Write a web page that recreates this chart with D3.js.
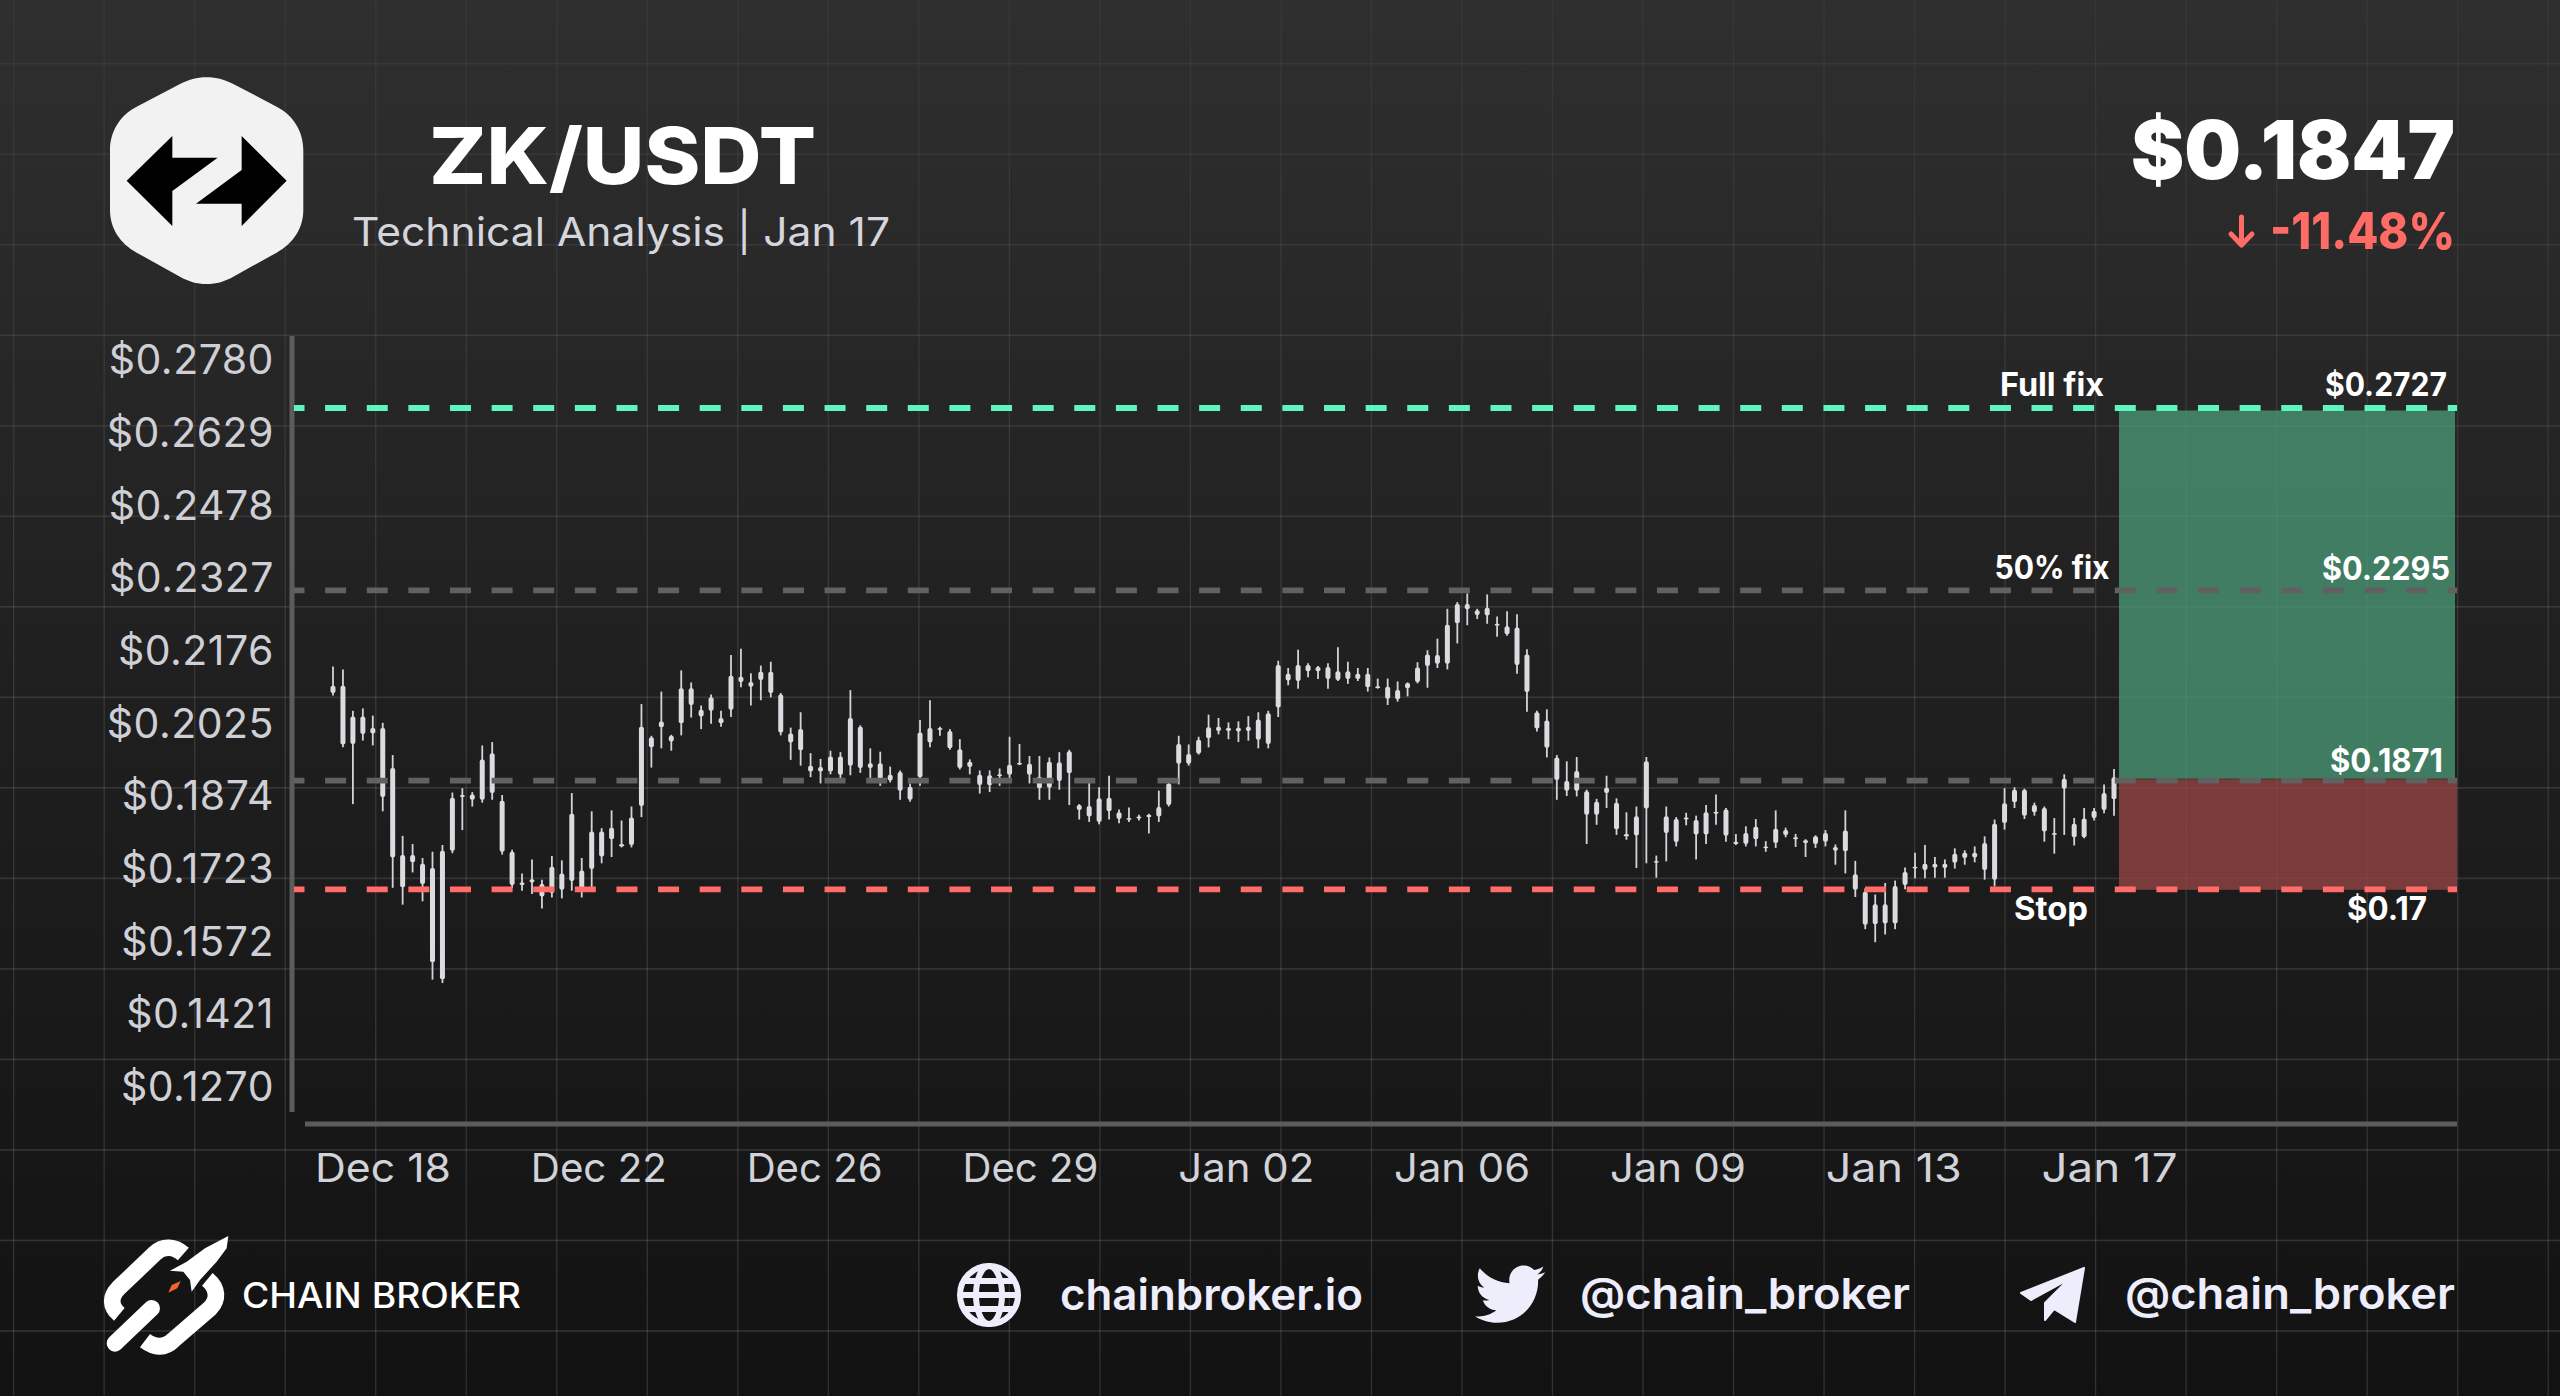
<!DOCTYPE html>
<html>
<head>
<meta charset="utf-8">
<title>ZK/USDT Technical Analysis</title>
<script src="https://cdn.jsdelivr.net/npm/d3@7"></script>
<style>
  html, body { margin: 0; padding: 0; background: #131314; }
  svg { display: block; }
  text { font-family: Inter, "Noto Sans", sans-serif; }
</style>
</head>
<body>
<svg id="chart" width="2560" height="1396" viewBox="0 0 2560 1396"></svg>
<script>
// Price axis labels and session dates along the bottom
const priceTicks = [0.2780, 0.2629, 0.2478, 0.2327, 0.2176, 0.2025, 0.1874, 0.1723, 0.1572, 0.1421, 0.1270];
const dateLabels = ["Dec 18", "Dec 22", "Dec 26", "Dec 29", "Jan 02", "Jan 06", "Jan 09", "Jan 13", "Jan 17"];

// Trade plan levels
const levelValues = [0.2727, 0.2295, 0.1871, 0.17];
const levelNames = ["Full fix", "50% fix", "", "Stop"];

// Candle series, oldest first
const wickHigh = [
0.2141,0.2135,0.2049,0.2054,0.2039,0.2024,0.1957,0.1789,0.1772,0.1743,
0.1756,0.1770,0.1879,0.1888,0.1880,0.1977,0.1984,0.1874,0.1760,0.1711,
0.1740,0.1698,0.1747,0.1738,0.1878,0.1743,0.1840,0.1805,0.1842,0.1821,
0.1850,0.2063,0.1997,0.2089,0.1999,0.2133,0.2108,0.2060,0.2083,0.2049,
0.2165,0.2178,0.2127,0.2143,0.2151,0.2086,0.2014,0.2046,0.1961,0.1949,
0.1966,0.1963,0.2092,0.2019,0.1971,0.1964,0.1933,0.1925,0.1898,0.2030,
0.2071,0.2016,0.2011,0.1990,0.1948,0.1925,0.1925,0.1929,0.1995,0.1980,
0.1955,0.1955,0.1952,0.1963,0.1968,0.1855,0.1899,0.1890,0.1914,0.1844,
0.1848,0.1833,0.1835,0.1883,0.1900,0.1997,0.1979,0.1995,0.2041,0.2034,
0.2025,0.2027,0.2038,0.2046,0.2049,0.2153,0.2138,0.2176,0.2148,0.2142,
0.2148,0.2181,0.2151,0.2138,0.2138,0.2116,0.2116,0.2110,0.2108,0.2150,
0.2175,0.2199,0.2261,0.2275,0.2293,0.2261,0.2291,0.2245,0.2256,0.2250,
0.2177,0.2049,0.2052,0.1957,0.1944,0.1953,0.1885,0.1866,0.1914,0.1867,
0.1838,0.1850,0.1953,0.1748,0.1850,0.1828,0.1837,0.1831,0.1853,0.1875,
0.1847,0.1793,0.1809,0.1824,0.1778,0.1842,0.1806,0.1793,0.1782,0.1790,
0.1801,0.1771,0.1842,0.1737,0.1680,0.1667,0.1691,0.1696,0.1723,0.1754,
0.1770,0.1745,0.1740,0.1763,0.1759,0.1767,0.1788,0.1823,0.1888,0.1890,
0.1887,0.1858,0.1850,0.1826,0.1917,0.1826,0.1847,0.1847,0.1896,0.1928];

const bodyTop = [
0.2101,0.2101,0.2037,0.2037,0.2013,0.2013,0.1930,0.1749,0.1749,0.1731,
0.1722,0.1758,0.1868,0.1874,0.1875,0.1948,0.1961,0.1862,0.1756,0.1692,
0.1699,0.1689,0.1725,0.1711,0.1835,0.1717,0.1798,0.1798,0.1806,0.1772,
0.1827,0.2016,0.1994,0.2027,0.1997,0.2096,0.2096,0.2051,0.2077,0.2034,
0.2122,0.2120,0.2109,0.2130,0.2130,0.2083,0.2002,0.2011,0.1935,0.1932,
0.1954,0.1954,0.2034,0.2016,0.1940,0.1940,0.1916,0.1922,0.1891,0.2004,
0.2013,0.2013,0.2007,0.1969,0.1943,0.1916,0.1915,0.1917,0.1937,0.1941,
0.1939,0.1912,0.1943,0.1942,0.1965,0.1853,0.1851,0.1867,0.1868,0.1838,
0.1826,0.1829,0.1833,0.1849,0.1898,0.1980,0.1959,0.1989,0.2015,0.2016,
0.2014,0.2014,0.2016,0.2031,0.2044,0.2144,0.2126,0.2144,0.2144,0.2140,
0.2140,0.2131,0.2131,0.2126,0.2126,0.2100,0.2099,0.2092,0.2107,0.2139,
0.2166,0.2165,0.2228,0.2271,0.2271,0.2258,0.2263,0.2230,0.2225,0.2222,
0.2166,0.2046,0.2029,0.1952,0.1903,0.1924,0.1882,0.1860,0.1889,0.1858,
0.1793,0.1830,0.1944,0.1737,0.1830,0.1824,0.1827,0.1822,0.1838,0.1839,
0.1844,0.1777,0.1795,0.1808,0.1767,0.1804,0.1801,0.1786,0.1780,0.1788,
0.1795,0.1766,0.1800,0.1709,0.1673,0.1647,0.1647,0.1685,0.1714,0.1725,
0.1731,0.1731,0.1731,0.1752,0.1754,0.1754,0.1774,0.1814,0.1857,0.1885,
0.1885,0.1853,0.1847,0.1795,0.1908,0.1814,0.1825,0.1841,0.1878,0.1911];

const bodyBottom = [
0.2086,0.1979,0.1980,0.2001,0.2002,0.1870,0.1744,0.1682,0.1734,0.1689,
0.1526,0.1491,0.1758,0.1870,0.1864,0.1864,0.1878,0.1756,0.1687,0.1687,
0.1692,0.1663,0.1670,0.1677,0.1695,0.1680,0.1720,0.1746,0.1782,0.1767,
0.1770,0.1851,0.1973,0.2015,0.1985,0.2023,0.2061,0.2037,0.2049,0.2023,
0.2051,0.2109,0.2099,0.2113,0.2086,0.2004,0.1983,0.1967,0.1923,0.1923,
0.1923,0.1916,0.1935,0.1930,0.1930,0.1905,0.1904,0.1883,0.1864,0.1911,
0.1983,0.2009,0.1971,0.1930,0.1932,0.1895,0.1894,0.1914,0.1916,0.1938,
0.1916,0.1888,0.1889,0.1903,0.1919,0.1843,0.1829,0.1818,0.1840,0.1824,
0.1823,0.1826,0.1828,0.1829,0.1853,0.1939,0.1939,0.1960,0.1992,0.2007,
0.2007,0.2006,0.2007,0.1989,0.1980,0.2056,0.2112,0.2111,0.2131,0.2131,
0.2115,0.2113,0.2115,0.2115,0.2098,0.2097,0.2074,0.2073,0.2096,0.2109,
0.2142,0.2147,0.2147,0.2231,0.2260,0.2248,0.2247,0.2227,0.2208,0.2144,
0.2088,0.2012,0.1972,0.1905,0.1883,0.1883,0.1833,0.1833,0.1878,0.1803,
0.1788,0.1790,0.1846,0.1733,0.1795,0.1776,0.1824,0.1792,0.1792,0.1835,
0.1789,0.1772,0.1772,0.1782,0.1765,0.1774,0.1791,0.1782,0.1774,0.1772,
0.1777,0.1758,0.1757,0.1677,0.1604,0.1605,0.1607,0.1607,0.1687,0.1721,
0.1718,0.1723,0.1722,0.1733,0.1743,0.1744,0.1718,0.1698,0.1816,0.1859,
0.1831,0.1838,0.1798,0.1792,0.1887,0.1786,0.1786,0.1826,0.1843,0.1865];

const wickLow = [
0.2081,0.1973,0.1855,0.1987,0.1977,0.1840,0.1681,0.1646,0.1713,0.1653,
0.1490,0.1483,0.1753,0.1801,0.1850,0.1858,0.1864,0.1750,0.1680,0.1675,
0.1668,0.1638,0.1661,0.1659,0.1675,0.1661,0.1680,0.1732,0.1745,0.1765,
0.1765,0.1828,0.1931,0.1971,0.1966,0.1998,0.2035,0.2011,0.2022,0.2016,
0.2036,0.2098,0.2060,0.2071,0.2077,0.1998,0.1947,0.1935,0.1911,0.1898,
0.1917,0.1908,0.1915,0.1920,0.1909,0.1893,0.1900,0.1864,0.1860,0.1893,
0.1973,0.1997,0.1968,0.1927,0.1917,0.1877,0.1880,0.1893,0.1909,0.1936,
0.1898,0.1864,0.1864,0.1885,0.1853,0.1823,0.1818,0.1813,0.1823,0.1815,
0.1818,0.1821,0.1794,0.1818,0.1850,0.1896,0.1935,0.1958,0.1973,0.2000,
0.1990,0.1984,0.1987,0.1971,0.1971,0.2036,0.2102,0.2095,0.2119,0.2115,
0.2095,0.2111,0.2105,0.2111,0.2089,0.2095,0.2061,0.2068,0.2079,0.2106,
0.2097,0.2138,0.2135,0.2189,0.2227,0.2240,0.2230,0.2203,0.2205,0.2126,
0.2047,0.2006,0.1952,0.1864,0.1872,0.1871,0.1772,0.1812,0.1847,0.1791,
0.1781,0.1722,0.1732,0.1702,0.1736,0.1767,0.1811,0.1740,0.1772,0.1812,
0.1777,0.1770,0.1767,0.1767,0.1756,0.1764,0.1786,0.1766,0.1745,0.1764,
0.1767,0.1729,0.1711,0.1662,0.1595,0.1568,0.1584,0.1595,0.1678,0.1701,
0.1701,0.1702,0.1702,0.1721,0.1729,0.1734,0.1698,0.1684,0.1802,0.1847,
0.1824,0.1831,0.1777,0.1752,0.1791,0.1769,0.1784,0.1821,0.1836,0.1831];

const candleIndex = d3.range(wickHigh.length);

// Header figures
const lastPrice = "$0.1847";
const dayChange = "-11.48%";

const svg = d3.select("#chart");
const W = 2560, H = 1396;

// Backdrop gradient
const defs = svg.append("defs");
const bg = defs.append("linearGradient").attr("id", "bg").attr("x1", 0).attr("y1", 0).attr("x2", 0).attr("y2", 1);
bg.append("stop").attr("offset", "0").attr("stop-color", "#302f30");
bg.append("stop").attr("offset", "0.5").attr("stop-color", "#201f20");
bg.append("stop").attr("offset", "1").attr("stop-color", "#121213");
svg.append("rect").attr("width", W).attr("height", H).attr("fill", "url(#bg)");

// Lattice lines fade out towards the top of the canvas
const gridFade = defs.append("linearGradient").attr("id", "gridFade")
  .attr("gradientUnits", "userSpaceOnUse").attr("x1", 0).attr("y1", 0).attr("x2", 0).attr("y2", H);
gridFade.append("stop").attr("offset", "0").attr("stop-color", "#fff").attr("stop-opacity", 0.035);
gridFade.append("stop").attr("offset", "0.45").attr("stop-color", "#fff").attr("stop-opacity", 0.11);
gridFade.append("stop").attr("offset", "1").attr("stop-color", "#fff").attr("stop-opacity", 0.13);

const gridStep = 90.52;
const grid = svg.append("g").attr("fill", "url(#gridFade)");
d3.range(0, 29).forEach(k => {
  grid.append("rect").attr("x", 13 + gridStep * k).attr("y", 0).attr("width", 1.3).attr("height", H);
});
d3.range(0, 15).forEach(k => {
  grid.append("rect").attr("x", 0).attr("y", 62.9 + gridStep * k).attr("width", W).attr("height", 1.6);
});

// Scales: candles follow the printed price axis, plan levels sit at their own marked heights
const xScale = d3.scaleLinear().domain([0, candleIndex.length - 1]).range([333, 2114]);
const priceScale = d3.scaleLinear().domain([0.2780, 0.1270]).range([359.2, 1085.5]);
const levelScale = d3.scaleLinear().domain([0.17, 0.1871, 0.2295, 0.2727]).range([889.3, 780.7, 590.3, 408]);
const dateScale = d3.scalePoint().domain(dateLabels).range([382.5, 2109]);

// Axis rails
svg.append("line").attr("x1", 292).attr("x2", 292).attr("y1", 336).attr("y2", 1112)
  .attr("stroke", "#5c5c5c").attr("stroke-width", 5);
svg.append("line").attr("x1", 305).attr("x2", 2457).attr("y1", 1124).attr("y2", 1124)
  .attr("stroke", "#5c5c5c").attr("stroke-width", 5);

// Price axis
const yAxis = svg.append("g").attr("transform", "translate(274,0)")
  .call(d3.axisLeft(priceScale).tickValues(priceTicks).tickFormat(d3.format("$.4f")).tickSize(0).tickPadding(0));
yAxis.select(".domain").remove();
yAxis.selectAll("text").attr("fill", "#cfcfd6").attr("font-size", 41).attr("font-weight", 400)
  .attr("font-family", "Inter").attr("dy", "0.36em").attr("letter-spacing", 0.5);

// Date axis
const xAxis = svg.append("g").attr("transform", "translate(0,1182)")
  .call(d3.axisBottom(dateScale).tickSize(0).tickPadding(0));
xAxis.select(".domain").remove();
xAxis.selectAll("text").attr("fill", "#d2d2d9").attr("font-size", 40).attr("font-weight", 400)
  .attr("font-family", "Inter").attr("y", 0).attr("dy", 0)
  .attr("textLength", 136).attr("lengthAdjust", "spacingAndGlyphs");

// Reward and risk zones
const zoneLeft = 2119, zoneRight = 2455;
svg.append("rect").attr("x", zoneLeft).attr("width", zoneRight - zoneLeft)
  .attr("y", levelScale(levelValues[0]) + 2.5)
  .attr("height", levelScale(levelValues[2]) - levelScale(levelValues[0]) - 4.5)
  .attr("fill", "#4b9c78").attr("fill-opacity", 0.75);
svg.append("rect").attr("x", zoneLeft).attr("width", zoneRight - zoneLeft + 2)
  .attr("y", levelScale(levelValues[2]) - 1.5)
  .attr("height", levelScale(levelValues[3]) - levelScale(levelValues[2]) + 2)
  .attr("fill", "#984745").attr("fill-opacity", 0.75);

// Candles
const candles = svg.append("g").selectAll("g").data(candleIndex).join("g");
candles.append("line")
  .attr("x1", i => xScale(i)).attr("x2", i => xScale(i))
  .attr("y1", i => priceScale(wickHigh[i])).attr("y2", i => priceScale(wickLow[i]))
  .attr("stroke", "#d3d3d8").attr("stroke-width", 1.8);
candles.append("rect")
  .attr("x", i => xScale(i) - 2.5).attr("width", 5)
  .attr("y", i => priceScale(bodyTop[i]))
  .attr("height", i => Math.max(priceScale(bodyBottom[i]) - priceScale(bodyTop[i]), 1.8))
  .attr("rx", 2).attr("fill", "#dcdce0");

// Plan level dashes
const levelColors = ["#5ff5bf", "#616161", "#616161", "#ff6c69"];
svg.append("g").selectAll("line").data(levelValues).join("line")
  .attr("x1", 294).attr("x2", 2457)
  .attr("y1", d => levelScale(d)).attr("y2", d => levelScale(d))
  .attr("stroke", (d, i) => levelColors[i]).attr("stroke-width", 5.8)
  .attr("stroke-dasharray", "21 20.62").attr("stroke-dashoffset", 10.5);

// Plan level captions
const capStyle = (sel, size, width) => sel.attr("font-size", size).attr("font-weight", 700).attr("fill", "#fff")
  .attr("text-anchor", "middle").attr("textLength", width).attr("lengthAdjust", "spacingAndGlyphs");
const nameBase = [395.5, 579, 0, 920];
const nameCenter = [2052, 2052, 0, 2051];
const nameWidth = [104, 115, 0, 74];
const valueBase = [395.5, 580, 771.5, 920];
const valueCenter = [2386, 2386, 2386.5, 2387];
const valueWidth = [122, 128, 113, 80];
levelValues.forEach((v, i) => {
  if (levelNames[i]) {
    capStyle(svg.append("text").attr("x", nameCenter[i]).attr("y", nameBase[i]).text(levelNames[i]), 32, nameWidth[i]);
  }
  capStyle(svg.append("text").attr("x", valueCenter[i]).attr("y", valueBase[i]).text("$" + v), 32, valueWidth[i]);
});

// Header: token badge, outlined on a 3x working grid
const badge = svg.append("g").attr("transform", "translate(90,60) scale(0.3333)");
badge.append("path")
  .attr("d", "M350,52 C380,52 405,60 430,72 L560,140 C610,165 640,215 640,270 L640,450 C640,505 610,550 560,578 L430,650 C405,664 380,672 350,672 C320,672 295,664 270,650 L140,578 C90,550 60,505 60,450 L60,270 C60,215 90,165 140,140 L270,72 C295,60 320,52 350,52 Z")
  .attr("fill", "#f2f2f2");
badge.append("polygon").attr("points", "247,228 247,293 383,293 247,393 247,498 110,362").attr("fill", "#000");
badge.append("polygon").attr("points", "455,228 590,362 455,498 455,431 318,431 455,330").attr("fill", "#000");

// Header: title block
svg.append("text").attr("x", 429).attr("y", 184).text("ZK/USDT")
  .attr("font-size", 78).attr("font-weight", 800).attr("fill", "#fff")
  .attr("textLength", 387).attr("lengthAdjust", "spacingAndGlyphs");
svg.append("text").attr("x", 352).attr("y", 245.5).text("Technical Analysis | Jan 17")
  .attr("font-size", 39).attr("font-weight", 400).attr("fill", "#d5d5dc")
  .attr("textLength", 538).attr("lengthAdjust", "spacingAndGlyphs");

// Header: price block
svg.append("text").attr("x", 2455).attr("y", 179).attr("text-anchor", "end").text(lastPrice)
  .attr("font-size", 81).attr("font-weight", 900).attr("fill", "#fff")
  .attr("textLength", 324).attr("lengthAdjust", "spacingAndGlyphs");
svg.append("text").attr("x", 2455).attr("y", 249).attr("text-anchor", "end").text(dayChange)
  .attr("font-size", 51).attr("font-weight", 800).attr("fill", "#ff6b65")
  .attr("textLength", 185).attr("lengthAdjust", "spacingAndGlyphs");
svg.append("path").attr("d", "M2241.5,217 L2241.5,245 M2231,234 L2241.5,245 L2252,234")
  .attr("fill", "none").attr("stroke", "#ff6b65").attr("stroke-width", 5)
  .attr("stroke-linecap", "round").attr("stroke-linejoin", "round");

// Footer: brand mark, outlined on a 3x working grid
const brand = svg.append("g").attr("transform", "translate(90,1220) scale(0.3333)");
const linkStroke = sel => sel.attr("fill", "none").attr("stroke", "#fff").attr("stroke-width", 50);
linkStroke(brand.append("path")).attr("d", "M280,102 C255,80 220,75 195,100 L85,205 C60,230 60,260 88,283");
linkStroke(brand.append("line")).attr("x1", 185).attr("y1", 265).attr("x2", 75).attr("y2", 370)
  .attr("stroke-linecap", "round");
linkStroke(brand.append("path")).attr("d", "M352,178 C385,205 385,240 360,265 L250,360 C225,385 195,385 165,362");
brand.append("polygon")
  .attr("points", "415,48 410,85 380,125 330,180 305,215 300,180 280,155 240,152 290,125 345,85")
  .attr("fill", "#fff");
brand.append("polygon").attr("points", "272,183 262,205 235,218 245,195").attr("fill", "#f0642d");
svg.append("text").attr("x", 242).attr("y", 1308).text("CHAIN BROKER")
  .attr("font-size", 35).attr("font-weight", 500).attr("fill", "#fff")
  .attr("textLength", 279).attr("lengthAdjust", "spacingAndGlyphs");

// Footer: contact links
const linkColor = "#ededfb";
const globe = svg.append("g").attr("transform", "translate(989,1295)")
  .attr("fill", "none").attr("stroke", linkColor).attr("stroke-width", 6);
globe.append("circle").attr("r", 29);
globe.append("ellipse").attr("rx", 13).attr("ry", 29);
globe.append("line").attr("x1", -29).attr("x2", 29);
globe.append("line").attr("x1", -25).attr("x2", 25).attr("y1", -14).attr("y2", -14);
globe.append("line").attr("x1", -25).attr("x2", 25).attr("y1", 14).attr("y2", 14);

svg.append("path")
  .attr("transform", "translate(1472,1257) scale(3.1)")
  .attr("d", "M23.643 4.937c-.835.37-1.732.62-2.675.733.962-.576 1.7-1.49 2.048-2.578-.9.534-1.897.922-2.958 1.13-.85-.904-2.06-1.47-3.4-1.47-2.572 0-4.658 2.086-4.658 4.66 0 .364.042.718.12 1.06-3.873-.195-7.304-2.05-9.602-4.868-.4.69-.63 1.49-.63 2.342 0 1.616.823 3.043 2.072 3.878-.764-.025-1.482-.234-2.11-.583v.06c0 2.257 1.605 4.14 3.737 4.568-.392.106-.803.162-1.227.162-.3 0-.593-.028-.877-.082.593 1.85 2.313 3.198 4.352 3.234-1.595 1.25-3.604 1.995-5.786 1.995-.376 0-.747-.022-1.112-.065 2.062 1.323 4.51 2.093 7.14 2.093 8.57 0 13.255-7.098 13.255-13.254 0-.2-.005-.402-.014-.602.91-.658 1.7-1.477 2.323-2.41z")
  .attr("fill", linkColor);

svg.append("polygon")
  .attr("points", "2084,1268 2021,1293 2031,1300 2069,1279 2045,1303 2045,1320 2054,1309 2075,1322")
  .attr("fill", linkColor).attr("stroke", linkColor).attr("stroke-width", 2).attr("stroke-linejoin", "round");

const linkStyle = sel => sel.attr("font-size", 43).attr("font-weight", 600).attr("fill", linkColor);
linkStyle(svg.append("text").attr("x", 1060).attr("y", 1310).text("chainbroker.io"))
  .attr("textLength", 303).attr("lengthAdjust", "spacingAndGlyphs");
linkStyle(svg.append("text").attr("x", 1580).attr("y", 1309).text("@chain_broker"))
  .attr("textLength", 330).attr("lengthAdjust", "spacingAndGlyphs");
linkStyle(svg.append("text").attr("x", 2125).attr("y", 1309).text("@chain_broker"))
  .attr("textLength", 330).attr("lengthAdjust", "spacingAndGlyphs");
</script>
</body>
</html>
